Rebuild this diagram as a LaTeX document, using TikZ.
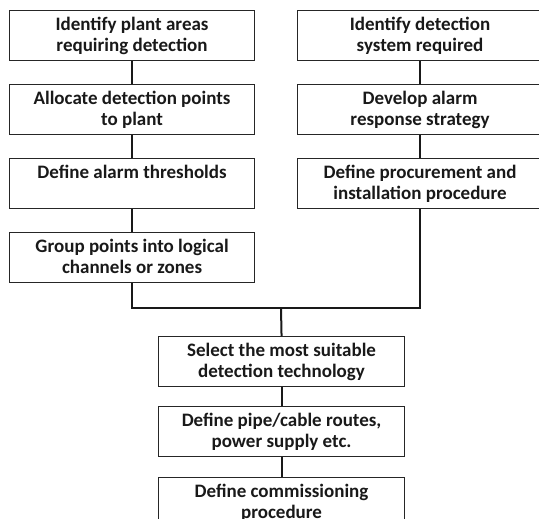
\documentclass[tikz,border=0pt]{standalone}
\usepackage{fontspec}
\setmainfont{Carlito}
\begin{document}
\begin{tikzpicture}[x=1pt,y=-1pt,
  stepbox/.style={draw=black!85, line width=1.1pt, minimum width=245pt, minimum height=50pt, inner sep=0pt, anchor=north west},
  boxtext/.style={anchor=north, align=center, font=\bfseries\fontsize{19}{21}\selectfont, inner sep=0pt, yshift=-6.5pt, text=black!90},
  link/.style={line width=2pt, draw=black!90}]
\clip (0,0) rectangle (539,519);
\fill[white] (0,0) rectangle (539,519);
% left column
\node[stepbox] (L1) at (9,10) {};
\node[boxtext] (L1t) at (L1.north) {Identify plant areas\\requiring detection};
\node[stepbox] (L2) at (9,84) {};
\node[boxtext] (L2t) at (L2.north) {Allocate detection points\\to plant};
\node[stepbox] (L3) at (9,158) {};
\node[boxtext] (L3t) at (L3.north) {Define alarm thresholds};
\node[stepbox] (L4) at (9,232) {};
\node[boxtext] (L4t) at (L4.north) {Group points into logical\\channels or zones};
% right column
\node[stepbox] (R1) at (297,10) {};
\node[boxtext] (R1t) at (R1.north) {Identify detection\\system required};
\node[stepbox] (R2) at (297,84) {};
\node[boxtext] (R2t) at (R2.north) {Develop alarm\\response strategy};
\node[stepbox] (R3) at (297,158) {};
\node[boxtext] (R3t) at (R3.north) {Define procurement and\\installation procedure};
% bottom column
\node[stepbox, minimum width=246pt] (B1) at (158,336) {};
\node[boxtext] (B1t) at (B1.north) {Select the most suitable\\detection technology};
\node[stepbox, minimum width=246pt] (B2) at (158,406) {};
\node[boxtext] (B2t) at (B2.north) {Define pipe/cable routes,\\power supply etc.};
\node[stepbox, minimum width=246pt] (B3) at (158,477) {};
\node[boxtext] (B3t) at (B3.north) {Define commissioning\\procedure};
% connectors
\coordinate (J) at (281,308);
\draw[link] (L1.south) -- (L2.north);
\draw[link] (L2.south) -- (L3.north);
\draw[link] (L3.south) -- (L4.north);
\draw[link] (R1.south) -- (R2.north);
\draw[link] (R2.south) -- (R3.north);
\draw[link] (L4.south) |- (J) -| (R3.south);
\draw[link] (J) -- (B1.north);
\draw[link] (B1.south) -- (B2.north);
\draw[link] (B2.south) -- (B3.north);
\end{tikzpicture}
\end{document}
